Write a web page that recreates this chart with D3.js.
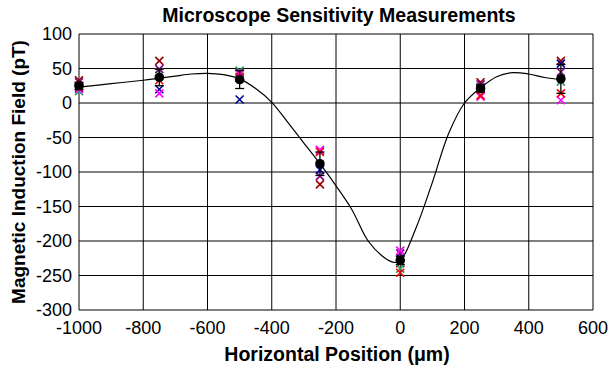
<!DOCTYPE html>
<html>
<head>
<meta charset="utf-8">
<script src="https://cdn.jsdelivr.net/npm/d3@7"></script>
<style>
  body { margin: 0; background: #fff; }
  text { font-family: "Liberation Sans", Arial, sans-serif; }
</style>
</head>
<body>
<svg id="chart"></svg>
<script>
// measurement positions (um)
let positions = [-1000, -750, -500, -250, 0, 250, 500];

// individual runs, one value per position
let runDarkRed = [33, 61, 36, -118, -232, 30, 61];
let runTeal = [17, 45, 47, -69, -240, 23, 31];
let runPurple = [30, 49, 44, -106, -218, 27, 45];
let runBlue = [22, 20, 5, -97, -225, 22, 57];
let runMagenta = [20, 14, 42, -68, -214, 9, 4];
let runRed = [24, 33, 38, -71, -246, 11, 14];

// averages and error bars
let meanValues = [25, 37, 34, -88, -228, 21, 35];
let errorValues = [5, 12, 13, 17, 6, 5, 21];

// model curve
let curveX = [-1000, -900, -800, -750, -700, -650, -600, -550, -500, -450, -400, -350, -300, -250, -200, -150, -100, -50, -20, 0, 50, 100, 150, 200, 250, 300, 350, 400, 450, 500];
let curveY = [23, 28, 33, 36, 39, 42, 43, 41, 35, 21, 1, -28, -58, -88, -120, -155, -200, -224, -231, -229, -180, -115, -45, 0, 22, 38, 44, 42, 37, 34];

let xTicks = [-1000, -800, -600, -400, -200, 0, 200, 400, 600];
let yTicks = [100, 50, 0, -50, -100, -150, -200, -250, -300];

let runs = [
  { color: "#990000", values: runDarkRed },
  { color: "#339966", values: runTeal },
  { color: "#800080", values: runPurple },
  { color: "#000099", values: runBlue },
  { color: "#ff00ff", values: runMagenta },
  { color: "#ff0000", values: runRed }
];

function drawChart() {
  let width = 610;
  let height = 369;
  let margin = { top: 34, right: 17, bottom: 59, left: 79 };

  let svg = d3.select("#chart")
    .attr("width", width)
    .attr("height", height);

  let x = d3.scaleLinear()
    .domain([-1000, 600])
    .range([margin.left, width - margin.right]);

  let y = d3.scaleLinear()
    .domain([-300, 100])
    .range([height - margin.bottom, margin.top]);

  // gridlines
  svg.append("g")
    .selectAll("line")
    .data(yTicks)
    .enter()
    .append("line")
    .attr("x1", x(-1000))
    .attr("x2", x(600))
    .attr("y1", d => y(d))
    .attr("y2", d => y(d))
    .attr("stroke", "#000")
    .attr("stroke-width", 1);

  svg.append("g")
    .selectAll("line")
    .data(xTicks)
    .enter()
    .append("line")
    .attr("x1", d => x(d))
    .attr("x2", d => x(d))
    .attr("y1", y(100))
    .attr("y2", y(-300))
    .attr("stroke", "#000")
    .attr("stroke-width", 1);

  // tick labels
  svg.append("g")
    .selectAll("text")
    .data(yTicks)
    .enter()
    .append("text")
    .attr("x", x(-1000) - 7)
    .attr("y", d => y(d))
    .attr("dy", "0.36em")
    .attr("font-size", "18px")
    .style("text-anchor", "end")
    .text(d => String(d));

  svg.append("g")
    .selectAll("text")
    .data(xTicks)
    .enter()
    .append("text")
    .attr("x", d => x(d))
    .attr("y", y(-300) + 24)
    .attr("font-size", "18px")
    .style("text-anchor", "middle")
    .text(d => String(d));

  // model curve
  let line = d3.line()
    .x(d => x(d[0]))
    .y(d => y(d[1]))
    .curve(d3.curveCatmullRom);

  svg.append("path")
    .datum(d3.zip(curveX, curveY))
    .attr("d", line)
    .attr("fill", "none")
    .attr("stroke", "#000")
    .attr("stroke-width", 1.2);

  // run markers
  let s = 4;
  runs.forEach(run => {
    svg.append("g")
      .selectAll("path")
      .data(d3.zip(positions, run.values))
      .enter()
      .append("path")
      .attr("d", d => {
        let cx = x(d[0]);
        let cy = y(d[1]);
        return `M${cx - s},${cy - s}L${cx + s},${cy + s}M${cx - s},${cy + s}L${cx + s},${cy - s}`;
      })
      .attr("stroke", run.color)
      .attr("stroke-width", 1.6)
      .attr("fill", "none");
  });

  // error bars
  let errors = svg.append("g")
    .selectAll("g")
    .data(d3.zip(positions, meanValues, errorValues))
    .enter()
    .append("g");

  errors.append("line")
    .attr("x1", d => x(d[0]))
    .attr("x2", d => x(d[0]))
    .attr("y1", d => y(d[1] + d[2]))
    .attr("y2", d => y(d[1] - d[2]))
    .attr("stroke", "#000")
    .attr("stroke-width", 1.3);

  [1, -1].forEach(sign => {
    errors.append("line")
      .attr("x1", d => x(d[0]) - 4.5)
      .attr("x2", d => x(d[0]) + 4.5)
      .attr("y1", d => y(d[1] + sign * d[2]))
      .attr("y2", d => y(d[1] + sign * d[2]))
      .attr("stroke", "#000")
      .attr("stroke-width", 1.3);
  });

  // means
  svg.append("g")
    .selectAll("circle")
    .data(d3.zip(positions, meanValues))
    .enter()
    .append("circle")
    .attr("cx", d => x(d[0]))
    .attr("cy", d => y(d[1]))
    .attr("r", 4.8)
    .attr("fill", "#000");

  // titles
  svg.append("text")
    .attr("x", 339)
    .attr("y", 22)
    .attr("font-size", "19.5px")
    .attr("font-weight", "bold")
    .style("text-anchor", "middle")
    .text("Microscope Sensitivity Measurements");

  svg.append("text")
    .attr("x", 337)
    .attr("y", 361)
    .attr("font-size", "19.5px")
    .attr("font-weight", "bold")
    .style("text-anchor", "middle")
    .text("Horizontal Position (\u03bcm)");

  svg.append("text")
    .attr("transform", `translate(25,${(y(100) + y(-300)) / 2}) rotate(-90)`)
    .attr("font-size", "19px")
    .attr("font-weight", "bold")
    .style("text-anchor", "middle")
    .text("Magnetic Induction Field (pT)");
}

drawChart();
</script>
</body>
</html>
